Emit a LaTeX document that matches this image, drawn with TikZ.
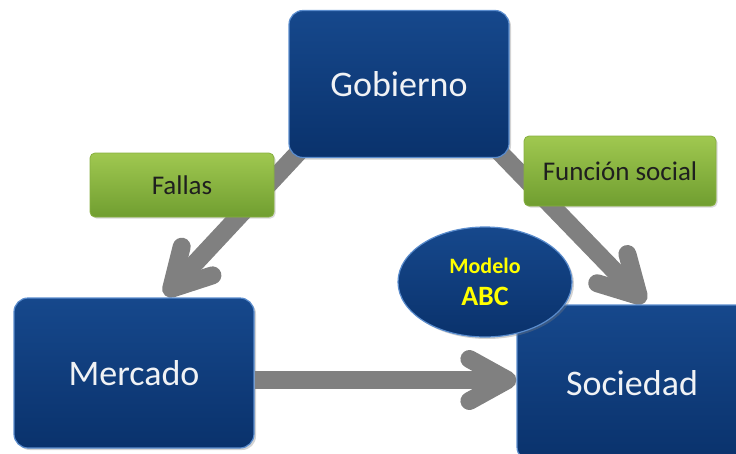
\documentclass[tikz,border=0pt]{standalone}
\usepackage{fontspec}
\setmainfont{Carlito}
\usetikzlibrary{arrows.meta,shapes.geometric,shadows,backgrounds}
\definecolor{boxtop}{RGB}{22,72,140}
\definecolor{boxbot}{RGB}{10,50,108}
\definecolor{boxrim}{RGB}{90,140,205}
\definecolor{grtop}{RGB}{160,200,80}
\definecolor{grbot}{RGB}{112,158,48}
\definecolor{grrim}{RGB}{135,175,65}
\definecolor{arrgray}{RGB}{128,128,128}
\definecolor{txtw}{RGB}{240,242,245}
\definecolor{modyel}{RGB}{255,255,0}
\tikzset{
  bluebox/.style={rounded corners=14pt, top color=boxtop, bottom color=boxbot,
    draw=boxrim, line width=1.2pt, text=txtw, font=\fontsize{36}{40}\selectfont,
    drop shadow={opacity=0.35, shadow xshift=2pt, shadow yshift=-2pt}},
  greenbox/.style={rounded corners=5pt, top color=grtop, bottom color=grbot,
    draw=grrim, line width=0.8pt, text=black!88, font=\fontsize{27}{30}\selectfont,
    drop shadow={opacity=0.3, shadow xshift=1.5pt, shadow yshift=-1.5pt}},
  bigarrow/.style={draw=arrgray, line width=18pt,
    -{Straight Barb[length=38pt,width=42pt,round]}},
}
\begin{document}
\begin{tikzpicture}[x=1pt,y=-1pt]
\useasboundingbox (0,0) rectangle (736,453);
\clip (0,0) rectangle (736,453);
\node[bluebox, minimum width=220pt, minimum height=147pt] (gob) at (399,84) {Gobierno};
\node[bluebox, minimum width=240pt, minimum height=150pt] (mer) at (134,373) {Mercado};
\node[bluebox, minimum width=236pt, minimum height=156pt] (soc) at (635,383) {\hspace*{-6pt}Sociedad};
\node[ellipse, top color=boxtop, bottom color=boxbot, draw=boxrim, line width=1.2pt,
  minimum width=174pt, minimum height=110pt, inner sep=0pt, text=modyel,
  font=\bfseries\fontsize{28}{32}\selectfont, align=center,
  drop shadow={opacity=0.35, shadow xshift=2pt, shadow yshift=-2pt}] (abc) at (485,282)
  {{\fontsize{22}{32}\selectfont Modelo}\\ABC};
\begin{scope}[on background layer]
  \draw[bigarrow] ([xshift=14pt,yshift=10pt]gob.south west) -- ([xshift=31pt,yshift=2pt]mer.north);
  \draw[bigarrow] ([xshift=-14pt,yshift=10pt]gob.south east) -- ([xshift=10pt,yshift=2pt]soc.north);
  \draw[bigarrow] ([yshift=-7pt]mer.east) -- ([yshift=3pt]soc.west);
\end{scope}
\node[greenbox, minimum width=184pt, minimum height=64pt] (fal) at (182,185) {Fallas};
\node[greenbox, minimum width=192pt, minimum height=70pt] (fun) at (620,171) {Función social};
\end{tikzpicture}
\end{document}
